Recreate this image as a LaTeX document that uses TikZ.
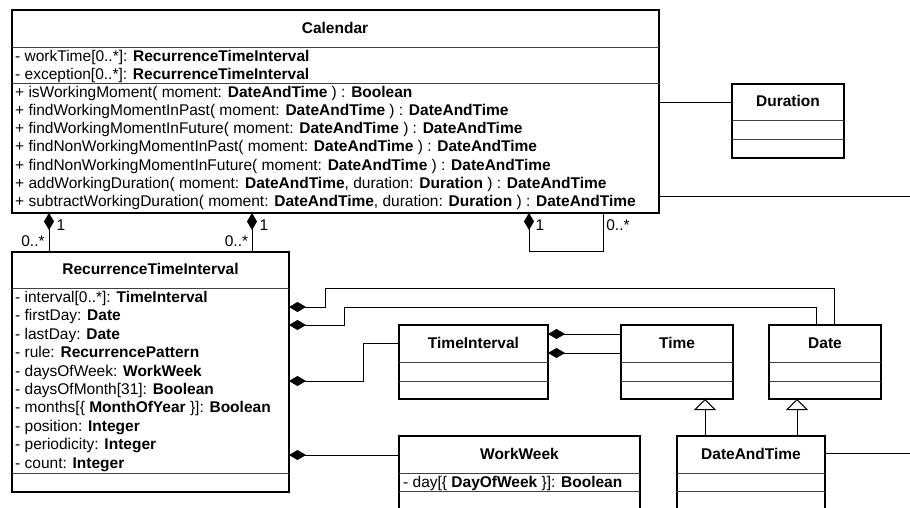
\documentclass[tikz,border=0pt]{standalone}
\usepackage{fontspec}
\setmainfont{Liberation Sans}
\usetikzlibrary{arrows.meta}
\newcommand\umlbox[5]{\node[clsbox, minimum width={#4-#2}, minimum height={#5-#3}] (#1) at ({(#2+#4)/2},{(#3+#5)/2}) {};}
\begin{document}
\begin{tikzpicture}[x=1pt,y=-1pt,
  clsbox/.style={draw, line width=2.4pt, inner sep=0pt, outer sep=0pt, fill=white},
  sepline/.style={line width=1pt, draw=black!75},
  txt/.style={anchor=base west, inner sep=0pt, font=\fontsize{15.5}{17}\selectfont},
  ttl/.style={anchor=base, inner sep=0pt, font=\fontsize{15.5}{17}\selectfont\bfseries},
  lbl/.style={anchor=base, inner sep=0pt, font=\fontsize{15.5}{17}\selectfont},
  conn/.style={line width=1pt, draw=black},
  comp/.style={conn, arrows={Diamond[length=17pt,width=10pt]-}},
  gen/.style={conn, arrows={-Triangle[open,length=11pt,width=22pt,fill=white]}}]
\useasboundingbox (0,0) rectangle (910,508);
\clip (0,0) rectangle (910,508);
\fill[white] (0,0) rectangle (910,508);

% ---------- Calendar
\umlbox{cal}{12}{10}{659}{213}
\draw[sepline] (cal.west |- 0,48) -- (cal.east |- 0,48);
\draw[sepline] (cal.west |- 0,84) -- (cal.east |- 0,84);
\node[ttl] (calt) at (335,33.3) {Calendar};
\node[txt] (ca1) at (15,62) {- workTime[0..*]: \textbf{RecurrenceTimeInterval}};
\node[txt] (ca2) at (15,79.5) {- exception[0..*]: \textbf{RecurrenceTimeInterval}};
\node[txt] (co1) at (15,98) {+ isWorkingMoment( moment: \textbf{DateAndTime} ) : \textbf{Boolean}};
\node[txt] (co2) at (15,116) {+ findWorkingMomentInPast( moment: \textbf{DateAndTime} ) : \textbf{DateAndTime}};
\node[txt] (co3) at (15,134) {+ findWorkingMomentInFuture( moment: \textbf{DateAndTime} ) : \textbf{DateAndTime}};
\node[txt] (co4) at (15,152) {+ findNonWorkingMomentInPast( moment: \textbf{DateAndTime} ) : \textbf{DateAndTime}};
\node[txt] (co5) at (15,170) {+ findNonWorkingMomentInFuture( moment: \textbf{DateAndTime} ) : \textbf{DateAndTime}};
\node[txt] (co6) at (15,188) {+ addWorkingDuration( moment: \textbf{DateAndTime}, duration: \textbf{Duration} ) : \textbf{DateAndTime}};
\node[txt] (co7) at (15,206) {+ subtractWorkingDuration( moment: \textbf{DateAndTime}, duration: \textbf{Duration} ) : \textbf{DateAndTime}};

% ---------- Duration
\umlbox{dur}{732}{84}{844}{158}
\draw[sepline] (dur.west |- 0,121) -- (dur.east |- 0,121);
\draw[sepline] (dur.west |- 0,140) -- (dur.east |- 0,140);
\node[ttl] (durt) at (788,107) {Duration};

% ---------- RecurrenceTimeInterval
\umlbox{rti}{12}{252}{289}{492}
\draw[sepline] (rti.west |- 0,288) -- (rti.east |- 0,288);
\draw[sepline] (rti.west |- 0,473) -- (rti.east |- 0,473);
\node[ttl] (rtit) at (150.5,274) {RecurrenceTimeInterval};
\node[txt] (ra1) at (15,302.5) {- interval[0..*]: \textbf{TimeInterval}};
\node[txt] (ra2) at (15,320.9) {- firstDay: \textbf{Date}};
\node[txt] (ra3) at (15,339.3) {- lastDay: \textbf{Date}};
\node[txt] (ra4) at (15,357.7) {- rule: \textbf{RecurrencePattern}};
\node[txt] (ra5) at (15,376.1) {- daysOfWeek: \textbf{WorkWeek}};
\node[txt] (ra6) at (15,394.5) {- daysOfMonth[31]: \textbf{Boolean}};
\node[txt] (ra7) at (15,412.9) {- months[\{ \textbf{MonthOfYear} \}]: \textbf{Boolean}};
\node[txt] (ra8) at (15,431.3) {- position: \textbf{Integer}};
\node[txt] (ra9) at (15,449.7) {- periodicity: \textbf{Integer}};
\node[txt] (ra10) at (15,468.1) {- count: \textbf{Integer}};

% ---------- TimeInterval, Time, Date
\umlbox{ti}{399}{325}{548}{399}
\draw[sepline] (ti.west |- 0,362) -- (ti.east |- 0,362);
\draw[sepline] (ti.west |- 0,381) -- (ti.east |- 0,381);
\node[ttl] (tit) at (473.5,348) {TimeInterval};

\umlbox{time}{621}{325}{733}{399}
\draw[sepline] (time.west |- 0,362) -- (time.east |- 0,362);
\draw[sepline] (time.west |- 0,381) -- (time.east |- 0,381);
\node[ttl] (timet) at (677,348) {Time};

\umlbox{date}{769}{325}{881}{399}
\draw[sepline] (date.west |- 0,362) -- (date.east |- 0,362);
\draw[sepline] (date.west |- 0,381) -- (date.east |- 0,381);
\node[ttl] (datet) at (825,348) {Date};

% ---------- WorkWeek, DateAndTime
\umlbox{ww}{399}{436}{640}{540}
\draw[sepline] (ww.west |- 0,473) -- (ww.east |- 0,473);
\draw[sepline] (ww.west |- 0,491) -- (ww.east |- 0,491);
\node[ttl] (wwt) at (519.5,459) {WorkWeek};
\node[txt] (wwa1) at (403,487) {- day[\{ \textbf{DayOfWeek} \}]: \textbf{Boolean}};

\umlbox{dat}{677}{436}{825}{540}
\draw[sepline] (dat.west |- 0,473) -- (dat.east |- 0,473);
\draw[sepline] (dat.west |- 0,491) -- (dat.east |- 0,491);
\node[ttl] (datt) at (751,459) {DateAndTime};

% ---------- connectors
\coordinate (calR) at (910,196);
\coordinate (datR) at (910,453);
\draw[conn] (cal.east |- 0,103) -- (dur.west |- 0,103);
\draw[conn] (cal.east |- 0,196) -- (calR);
\draw[conn] (dat.east |- 0,453) -- (datR);

% Calendar -> RTI compositions
\draw[comp] (cal.south -| 49,0) -- (rti.north -| 49,0);
\node[lbl] (m1a) at (61,230.5) {1};
\node[lbl] (m1b) at (33,246.5) {0..*};
\draw[comp] (cal.south -| 252,0) -- (rti.north -| 252,0);
\node[lbl] (m2a) at (264,230.5) {1};
\node[lbl] (m2b) at (236.5,246.5) {0..*};

% Calendar self composition
\draw[comp] (cal.south -| 529,0) -- (529,251) -| (cal.south -| 603,0);
\node[lbl] (m3a) at (540,230.5) {1};
\node[lbl] (m3b) at (618,230.5) {0..*};

% RTI -> Date (x2), TimeInterval, WorkWeek
\draw[comp] (rti.east |- 0,307) -| (325,288) -| (date.north -| 834,0);
\draw[comp] (rti.east |- 0,325) -| (344,307) -| (date.north -| 816,0);
\draw[comp] (rti.east |- 0,381) -| (363,343) -- (ti.west |- 0,343);
\draw[comp] (rti.east |- 0,455) -- (ww.west |- 0,455);

% TimeInterval -> Time
\draw[comp] (ti.east |- 0,334) -- (time.west |- 0,334);
\draw[comp] (ti.east |- 0,353) -- (time.west |- 0,353);

% generalizations
\draw[gen] (dat.north -| 705,0) -- (time.south -| 705,0);
\draw[gen] (dat.north -| 797,0) -- (date.south -| 797,0);
\end{tikzpicture}
\end{document}
